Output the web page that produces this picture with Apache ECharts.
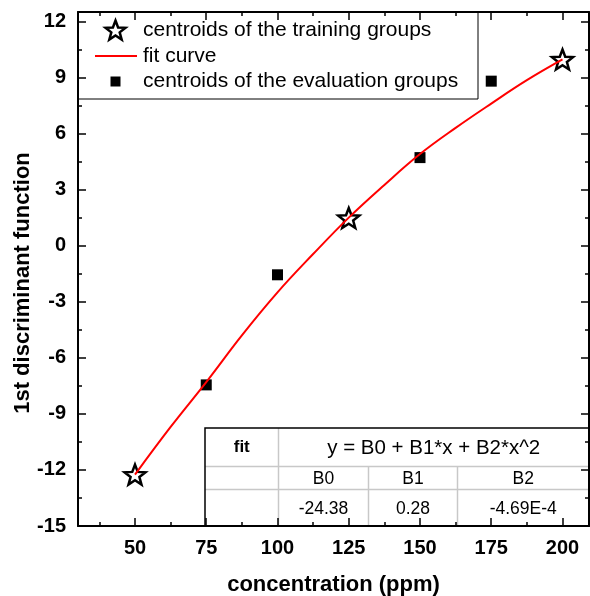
<!DOCTYPE html>
<html>
<head>
<meta charset="utf-8">
<script src="https://cdn.jsdelivr.net/npm/echarts@6/dist/echarts.min.js"></script>
<style>
  html, body { margin: 0; padding: 0; background: #ffffff; }
  #chart { width: 590px; height: 596px; }
</style>
</head>
<body>
<div id="chart"></div>
<script>
// Discriminant-function centroids versus concentration
const trainingX = [50, 125, 200];
const trainingY = [-12.25, 1.48, 9.96];
const evalX = [75, 100, 150, 175];
const evalY = [-7.45, -1.56, 4.71, 8.8];
const fitX = [50, 62.5, 75, 87.5, 100, 112.5, 125, 137.5, 150, 162.5, 175, 187.5, 200];
const fitY = [-12.25, -9.7, -7.3, -4.8, -2.5, -0.45, 1.5, 3.25, 4.9, 6.3, 7.6, 8.85, 9.96];

const xTicks = [50, 75, 100, 125, 150, 175, 200];
const xMinorTicks = [37.5, 62.5, 87.5, 112.5, 137.5, 162.5, 187.5];
const yTicks = [-15, -12, -9, -6, -3, 0, 3, 6, 9, 12];
const yMinorTicks = [-13.5, -10.5, -7.5, -4.5, -1.5, 1.5, 4.5, 7.5, 10.5];

const legendLabels = ['centroids of the training groups', 'fit curve', 'centroids of the evaluation groups'];
const fitEquation = 'y = B0 + B1*x + B2*x^2';
const fitParamNames = ['B0', 'B1', 'B2'];
const fitParamValues = ['-24.38', '0.28', '-4.69E-4'];

const FONT = 'Arial, "Liberation Sans", sans-serif';
const X_MIN = 30, X_MAX = 209.3, Y_MIN = -15, Y_MAX = 12.5;

// five-pointed star outline
function starPoints(cx, cy, rOuter, rInner) {
  const pts = [];
  for (let i = 0; i < 10; i++) {
    const a = (-90 + 36 * i) * Math.PI / 180;
    const r = i % 2 === 0 ? rOuter : rInner;
    pts.push([cx + r * Math.cos(a), cy + r * Math.sin(a)]);
  }
  return pts;
}
const starPath = 'path://' + starPoints(0, 0, 10, 4.2)
  .map((p, i) => (i === 0 ? 'M' : 'L') + p[0].toFixed(3) + ',' + p[1].toFixed(3)).join(' ') + ' Z';

const zip = (xs, ys) => xs.map((x, i) => [x, ys[i]]);

function tickAxis(kind, pos, grid, values, len, extra) {
  const base = {
    type: 'value', gridIndex: grid, position: pos,
    min: kind === 'x' ? X_MIN : Y_MIN, max: kind === 'x' ? X_MAX : Y_MAX,
    splitLine: { show: false },
    axisLine: { show: false, onZero: false },
    axisLabel: { show: false },
    axisTick: { show: true, inside: true, length: len, customValues: values,
      lineStyle: { color: '#000', width: 1.5 } }
  };
  return Object.assign(base, extra || {});
}

const axisLineStyle = { show: true, onZero: false, lineStyle: { color: '#000', width: 2 } };
const labelStyle = { fontFamily: FONT, fontWeight: 'bold', fontSize: 20, color: '#000' };

const gridRect = { left: 78, top: 12, width: 511, height: 514, outerBoundsMode: 'none', containLabel: false };

const xAxes = [
  tickAxis('x', 'bottom', 0, xTicks, 8, {
    axisLine: axisLineStyle,
    axisLabel: Object.assign({ show: true, margin: 12, customValues: xTicks }, labelStyle),
    name: 'concentration (ppm)', nameLocation: 'middle', nameGap: 48, nameMoveOverlap: false,
    nameTextStyle: { fontFamily: FONT, fontWeight: 'bold', fontSize: 22, color: '#000' }
  }),
  tickAxis('x', 'top', 0, xTicks, 8, { axisLine: axisLineStyle }),
  tickAxis('x', 'bottom', 1, xMinorTicks, 4),
  tickAxis('x', 'top', 1, xMinorTicks, 4)
];
const yAxes = [
  tickAxis('y', 'left', 0, yTicks, 8, {
    axisLine: axisLineStyle,
    axisLabel: Object.assign({ show: true, margin: 12, customValues: yTicks }, labelStyle),
    name: '1st discriminant function', nameLocation: 'middle', nameGap: 44, nameMoveOverlap: false,
    nameTextStyle: { fontFamily: FONT, fontWeight: 'bold', fontSize: 22, color: '#000',
      padding: [0, 28, 0, 0] }
  }),
  tickAxis('y', 'right', 0, yTicks, 8, { axisLine: axisLineStyle }),
  tickAxis('y', 'left', 1, yMinorTicks, 4),
  tickAxis('y', 'right', 1, yMinorTicks, 4)
];

// legend box
const legendGraphic = {
  type: 'group', z: 100,
  children: [
    { type: 'rect', shape: { x: 78, y: 12, width: 400, height: 87 },
      style: { fill: '#fff', stroke: '#000', lineWidth: 1 } },
    { type: 'polygon', shape: { points: starPoints(115.5, 31, 10.5, 4.4) },
      style: { fill: '#fff', stroke: '#000', lineWidth: 2.5 } },
    { type: 'line', shape: { x1: 95, y1: 56, x2: 137, y2: 56 },
      style: { stroke: '#ff0000', lineWidth: 2 } },
    { type: 'rect', shape: { x: 110.5, y: 76.5, width: 10, height: 10 },
      style: { fill: '#000' } }
  ].concat(legendLabels.map((t, i) => ({
    type: 'text', x: 143, y: [30, 56, 81][i],
    style: { text: t, fontFamily: FONT, fontSize: 21, fill: '#000', verticalAlign: 'middle', align: 'left' }
  })))
};

// fit parameter table
const T = { x0: 205, x1: 589, y0: 428, y1: 526, r1: 466.5, r2: 489.5, c1: 278.5, c2: 368.5, c3: 457.5 };
const gray = '#c8c8c8';
const cellText = (x, y, t, size, bold) => ({
  type: 'text', x: x, y: y,
  style: { text: t, fontFamily: FONT, fontSize: size, fontWeight: bold ? 'bold' : 'normal',
    fill: '#000', align: 'center', verticalAlign: 'middle' }
});
const colCenters = [(T.c1 + T.c2) / 2, (T.c2 + T.c3) / 2, (T.c3 + T.x1) / 2];
const tableGraphic = {
  type: 'group', z: 100,
  children: [
    { type: 'rect', shape: { x: T.x0, y: T.y0, width: T.x1 - T.x0, height: T.y1 - T.y0 },
      style: { fill: '#fff', stroke: null } },
    { type: 'line', shape: { x1: T.x0, y1: T.r1, x2: T.x1, y2: T.r1 }, style: { stroke: gray, lineWidth: 1.5 } },
    { type: 'line', shape: { x1: T.x0, y1: T.r2, x2: T.x1, y2: T.r2 }, style: { stroke: gray, lineWidth: 1.5 } },
    { type: 'line', shape: { x1: T.c1, y1: T.y0, x2: T.c1, y2: T.y1 }, style: { stroke: gray, lineWidth: 1.5 } },
    { type: 'line', shape: { x1: T.c2, y1: T.r1, x2: T.c2, y2: T.y1 }, style: { stroke: gray, lineWidth: 1.5 } },
    { type: 'line', shape: { x1: T.c3, y1: T.r1, x2: T.c3, y2: T.y1 }, style: { stroke: gray, lineWidth: 1.5 } },
    { type: 'rect', shape: { x: T.x0, y: T.y0, width: T.x1 - T.x0, height: T.y1 - T.y0 },
      style: { fill: null, stroke: '#000', lineWidth: 1.5 } },
    cellText((T.x0 + T.c1) / 2, (T.y0 + T.r1) / 2, 'fit', 17, true),
    cellText((T.c1 + T.x1) / 2, (T.y0 + T.r1) / 2 + 1, fitEquation, 20.5, false)
  ].concat(fitParamNames.map((t, i) => cellText(colCenters[i], (T.r1 + T.r2) / 2 + 1, t, 17.5, false)))
   .concat(fitParamValues.map((t, i) => cellText(colCenters[i], (T.r2 + T.y1) / 2 + 1, t, 17.5, false)))
};

const chart = echarts.init(document.getElementById('chart'), null, { renderer: 'canvas' });
chart.setOption({
  backgroundColor: '#ffffff',
  animation: false,
  textStyle: { fontFamily: FONT },
  grid: [Object.assign({}, gridRect), Object.assign({}, gridRect)],
  xAxis: xAxes,
  yAxis: yAxes,
  series: [
    {
      name: legendLabels[0], type: 'scatter', xAxisIndex: 0, yAxisIndex: 0,
      data: zip(trainingX, trainingY),
      symbol: starPath, symbolSize: 21, symbolKeepAspect: true,
      itemStyle: { color: '#fff', borderColor: '#000', borderWidth: 2.5, opacity: 1 }
    },
    {
      name: legendLabels[1], type: 'line', xAxisIndex: 0, yAxisIndex: 0,
      data: zip(fitX, fitY), smooth: 0.4, showSymbol: false,
      lineStyle: { color: '#ff0000', width: 2 }
    },
    {
      name: legendLabels[2], type: 'scatter', xAxisIndex: 0, yAxisIndex: 0,
      data: zip(evalX, evalY), symbol: 'rect', symbolSize: 11,
      itemStyle: { color: '#000', opacity: 1 }
    }
  ],
  graphic: [legendGraphic, tableGraphic]
});
</script>
</body>
</html>
